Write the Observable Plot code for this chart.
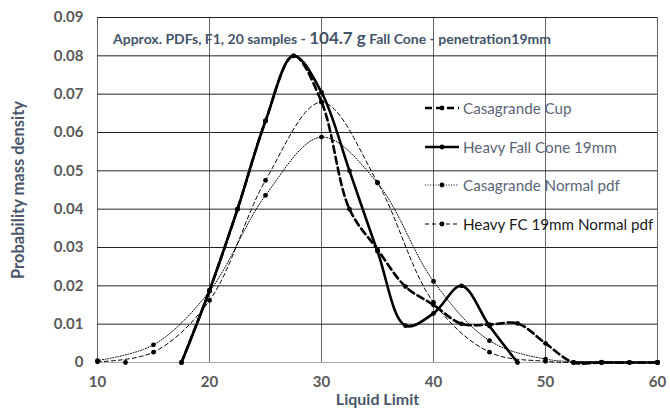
<!DOCTYPE html>
<html>
<head>
<meta charset="utf-8">
<script src="https://cdn.jsdelivr.net/npm/d3@7"></script>
<script src="https://cdn.jsdelivr.net/npm/@observablehq/plot@0.6"></script>
<style>
  html, body { margin: 0; padding: 0; background: #fff; }
  #wrap { position: relative; width: 670px; height: 411px; font-family: Lato, "Open Sans", sans-serif; }
  #title { position: absolute; left: 113px; top: 27px; white-space: nowrap; color: #44546A; font-weight: bold; font-size: 14px; line-height: 22px; }
  #title .big { font-size: 17px; }
  #legend { position: absolute; left: 424px; top: 98px; }
  .row { position: absolute; left: 0; height: 20px; display: flex; align-items: center; white-space: nowrap; font-size: 15.2px; }
  .row svg { display: block; margin-right: 3px; }
</style>
</head>
<body>
<div id="wrap">
  <div id="chart"></div>
  <div id="title">Approx. PDFs, F1, 20 samples - <span class="big">104.7 g</span> Fall Cone - penetration19mm</div>
  <div id="legend"></div>
</div>
<script>
// Liquid limit positions (x) for the two measured series
const llMeasured = [10, 12.5, 15, 17.5, 20, 22.5, 25, 27.5, 30, 32.5, 35, 37.5, 40, 42.5, 45, 47.5, 50, 52.5, 55, 57.5, 60];
const casagrandeCup = [null, 0, null, 0, 0.0188, 0.040, 0.063, 0.080, 0.068, 0.040, 0.0295, 0.0198, 0.0150, 0.0101, 0.0099, 0.0102, 0.005, 0, 0, 0, 0];
const heavyFallCone = [null, null, null, 0, 0.0188, 0.040, 0.063, 0.080, 0.0705, 0.050, 0.029, 0.0096, 0.0128, 0.020, 0.0095, 0, null, 0, 0, 0, 0];
// Liquid limit positions for the normal pdfs
const llNormal = [10, 15, 20, 25, 30, 35, 40, 45, 50, 55, 60];
const casagrandeNormal = [0.0005, 0.0046, 0.0186, 0.0436, 0.0588, 0.0468, 0.0212, 0.0057, 0.0009, 0.0001, 0];
const heavyNormal = [0.0002, 0.0027, 0.0162, 0.0475, 0.0679, 0.0470, 0.0157, 0.0027, 0.0003, 0, 0];

const xTicks = [10, 20, 30, 40, 50, 60];
const yTicks = [0, 0.01, 0.02, 0.03, 0.04, 0.05, 0.06, 0.07, 0.08, 0.09];

const seriesNames = ["Casagrande Cup", "Heavy Fall Cone 19mm", "Casagrande Normal pdf", "Heavy FC 19mm Normal pdf"];
const seriesStyles = [
  {width: 2.6, dash: "7,4", color: "#5a6577"},
  {width: 2.6, dash: null, color: "#5a6577"},
  {width: 1, dash: "1,1.6", color: "#5a6577"},
  {width: 1, dash: "4,3", color: "#1a1a1a"}
];

const mk = (xs, ys) => xs.map((x, i) => ({x, y: ys[i]}));
const dCas = mk(llMeasured, casagrandeCup);
const dHeavy = mk(llMeasured, heavyFallCone);
const dCasN = mk(llNormal, casagrandeNormal);
const dHeavyN = mk(llNormal, heavyNormal);
const datasets = [dCas, dHeavy, dCasN, dHeavyN];

const lineMarks = [];
datasets.forEach((d, i) => {
  const s = seriesStyles[i];
  lineMarks.push(Plot.line(d, {x: "x", y: "y", curve: "catmull-rom", stroke: "#000", strokeWidth: s.width, strokeDasharray: s.dash || undefined}));
  lineMarks.push(Plot.dot(d.filter(p => p.y != null), {x: "x", y: "y", r: 2.4, fill: "#000", stroke: "none"}));
});

const chart = Plot.plot({
  width: 670,
  height: 411,
  marginLeft: 97,
  marginRight: 13,
  marginTop: 17,
  marginBottom: 49,
  style: {fontFamily: "Lato, 'Open Sans', sans-serif", fontSize: "15px", fontWeight: "bold", color: "#595959", background: "white"},
  x: {domain: [10, 60], ticks: xTicks, tickSize: 0, tickPadding: 14, label: null},
  y: {domain: [0, 0.09], ticks: yTicks, tickSize: 0, tickPadding: 14, label: null, tickFormat: d => d === 0 ? "0" : d.toFixed(2)},
  marks: [
    Plot.gridX(xTicks, {stroke: "#666", strokeOpacity: 1}),
    Plot.gridY(yTicks.filter(d => d > 0), {stroke: "#222", strokeOpacity: 1}),
    Plot.ruleY([0], {stroke: "#aaa"}),
    ...lineMarks,
    Plot.text(["Liquid Limit"], {frameAnchor: "bottom", dy: 42, textAnchor: "middle", fill: "#4a5669", fontSize: 16, fontWeight: "bold"}),
    Plot.text(["Probability mass density"], {frameAnchor: "left", dx: -79, rotate: -90, textAnchor: "middle", fill: "#4a5669", fontSize: 16.5, fontWeight: "bold"})
  ]
});
document.getElementById("chart").appendChild(chart);

// Legend
const legend = document.getElementById("legend");
seriesNames.forEach((name, i) => {
  const s = seriesStyles[i];
  const row = document.createElement("div");
  row.className = "row";
  row.style.top = (i * 38.7) + "px";
  const svg = d3.create("svg").attr("width", 36).attr("height", 10);
  svg.append("line").attr("x1", 1).attr("x2", 35).attr("y1", 5).attr("y2", 5)
    .attr("stroke", "#000").attr("stroke-width", s.width).attr("stroke-dasharray", s.dash);
  svg.append("circle").attr("cx", 18).attr("cy", 5).attr("r", 2.4).attr("fill", "#000");
  row.appendChild(svg.node());
  const span = document.createElement("span");
  span.textContent = name;
  span.style.color = s.color;
  row.appendChild(span);
  legend.appendChild(row);
});
</script>
</body>
</html>
